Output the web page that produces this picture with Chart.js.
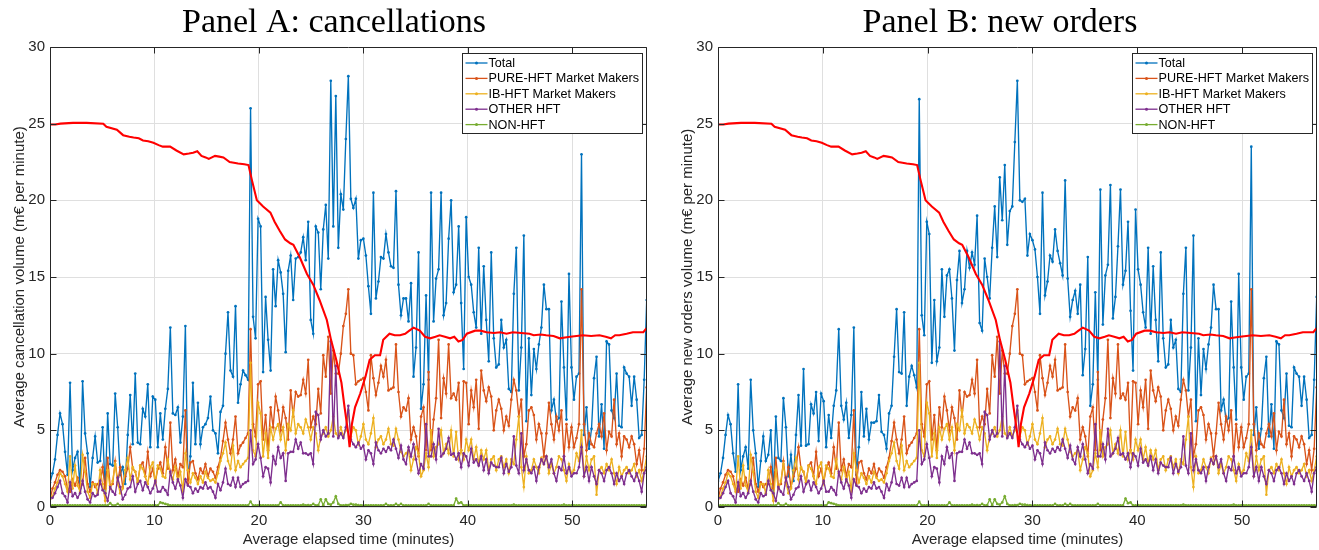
<!DOCTYPE html>
<html><head><meta charset="utf-8">
<script src="https://cdn.jsdelivr.net/npm/chart.js@4/dist/chart.umd.min.js"></script>
<style>
html,body{margin:0;padding:0;background:#fff;}
#wrap{position:relative;width:1319px;height:550px;overflow:hidden;background:#fff;}
canvas{position:absolute;top:0;}
#cA{left:0;} #cB{left:660px;}
</style></head><body>
<div id="wrap"><canvas id="cA" width="660" height="550"></canvas><canvas id="cB" width="659" height="550"></canvas></div>
<script>
// ---- data (m€ per minute), one value per sampling interval ----
const SAMPLE_STEP_MINUTES = 0.24;
const seriesNames = ['Total', 'PURE-HFT Market Makers', 'IB-HFT Market Makers', 'OTHER HFT', 'NON-HFT'];
const xTickValues = [0, 10, 20, 30, 40, 50];
const yTickValues = [0, 5, 10, 15, 20, 25, 30];

const totalCancel = [
1.6,2.2,3.1,4.7,6.1,5.4,3.6,2.1,8.1,2.4,
3.2,3.6,1.2,8.2,4.8,3.5,1.3,3.2,4.6,2.9,
3.0,5.2,0.9,6.1,2.8,2.7,7.4,5.2,2.1,2.6,
1.5,4.7,7.3,4.1,8.7,4.2,4.1,6.4,5.9,8.0,
3.9,7.2,7.0,3.9,6.1,4.4,6.4,7.7,11.7,6.1,
6.0,6.5,4.2,5.9,11.8,1.8,3.3,8.1,4.1,6.8,
4.1,5.2,5.4,5.8,7.2,5.0,4.8,3.5,6.2,6.6,
10.0,12.7,8.9,8.5,13.1,6.8,8.0,8.9,8.6,8.3,
26.0,12.4,11.0,18.8,18.3,8.8,13.7,10.9,8.9,15.5,
13.1,16.1,15.3,13.9,10.1,15.4,16.4,13.5,16.2,16.3,
16.6,17.6,16.1,18.6,12.2,11.3,18.3,17.9,14.2,18.1,
19.7,16.2,27.8,18.3,26.8,16.9,20.4,19.4,24.0,28.1,
20.1,19.5,20.1,16.2,17.4,17.5,16.4,14.4,12.6,20.5,
13.6,14.7,16.3,16.2,17.8,16.6,15.7,15.6,20.6,14.5,
12.5,13.6,13.6,12.1,14.6,8.5,10.4,16.6,6.4,8.0,
13.8,8.3,20.5,12.1,14.9,15.5,20.5,12.5,13.3,17.5,
20.0,14.0,14.5,18.3,13.3,9.0,18.9,15.0,14.5,12.7,
11.7,16.9,11.3,15.7,12.2,9.5,16.6,11.0,9.1,9.3,
12.2,10.4,10.9,7.7,7.5,13.9,16.9,7.6,10.4,17.7,
5.6,11.0,7.3,10.3,9.0,10.6,11.7,14.5,12.9,12.9,
6.3,7.0,5.6,5.8,13.4,9.1,5.7,15.2,9.1,7.0,
8.5,8.7,23.0,4.7,6.5,3.8,5.1,8.4,9.8,4.6,
6.7,3.8,10.8,10.6,6.3,5.8,8.7,5.3,5.2,9.1,
8.7,8.5,6.6,8.5,7.0,4.5,4.7,8.3,13.5];

const totalNewOrders = [
1.7,2.2,3.2,4.7,6.0,5.4,3.5,2.3,8.0,2.4,
3.3,3.9,2.5,8.3,5.0,3.5,1.3,3.0,4.6,3.0,
3.4,5.0,0.8,5.9,3.2,3.0,7.1,5.2,2.0,3.4,
1.7,4.7,7.3,4.0,9.0,4.0,4.1,6.7,6.1,7.5,
4.3,7.4,6.9,3.9,6.0,4.5,6.6,7.6,11.6,6.6,
5.7,6.8,4.5,6.0,11.7,2.1,3.9,7.5,4.6,6.4,
4.4,5.5,5.5,5.6,7.3,4.9,4.7,3.8,6.1,6.6,
9.8,12.9,8.8,8.7,12.7,6.6,8.5,9.2,8.6,7.8,
26.6,12.5,11.2,18.6,17.8,9.4,13.5,9.5,10.4,15.5,
12.4,15.1,15.5,13.6,10.2,14.8,16.7,13.3,14.2,16.7,
15.6,16.6,15.8,19.0,12.0,11.5,16.2,15.0,13.6,16.9,
19.6,16.3,21.5,18.7,22.3,17.1,19.3,19.6,23.8,27.8,
20.0,19.9,20.1,16.4,17.8,17.4,16.8,15.0,12.6,20.5,
13.8,14.7,16.4,16.0,18.1,16.7,15.9,15.1,21.3,14.9,
12.4,13.5,14.1,12.6,14.5,8.6,10.3,16.3,6.6,8.0,
14.0,8.3,20.7,11.9,15.1,15.8,21.0,12.3,13.7,17.0,
20.7,14.5,15.4,18.6,12.8,8.9,19.4,15.5,14.5,12.7,
11.7,16.9,11.3,15.7,12.2,9.5,16.6,11.0,9.1,9.3,
12.2,10.4,10.9,7.7,7.5,13.9,16.9,7.6,10.4,17.7,
5.6,11.0,7.3,10.3,9.0,10.6,11.7,14.5,12.9,12.9,
6.3,7.0,5.6,5.8,13.4,9.1,5.7,15.2,9.1,7.0,
8.5,8.7,23.5,4.7,6.5,3.8,5.1,8.4,9.8,4.6,
6.7,3.8,10.8,10.6,6.3,5.8,8.7,5.3,5.2,9.1,
8.7,8.5,6.6,8.5,7.0,4.5,4.7,8.3,13.7];

const pureHftMM = [
0.5,1.2,1.6,2.1,2.4,2.3,2.0,1.2,1.0,1.8,
1.4,1.9,1.2,1.5,3.2,1.5,1.0,1.6,1.3,1.5,
1.5,2.6,1.2,3.2,1.4,1.5,3.0,1.6,2.6,1.3,
2.0,2.5,3.9,2.5,2.3,1.6,2.7,2.9,2.0,3.6,
2.0,2.5,1.6,2.5,2.9,2.2,3.9,2.5,5.5,2.4,
3.1,2.0,2.8,2.6,6.3,1.5,2.9,3.0,2.2,1.8,
2.5,2.2,2.8,2.0,2.5,2.3,1.9,2.6,3.2,4.3,
5.5,4.4,3.5,4.4,5.9,3.5,4.0,4.2,4.5,4.8,
11.6,5.4,4.6,8.0,8.2,4.4,6.0,3.7,6.5,5.2,
7.2,6.3,5.0,6.5,5.8,4.4,7.6,5.9,7.5,7.2,
7.3,8.3,7.4,9.6,5.2,5.9,5.4,7.7,6.1,9.9,
8.5,11.1,7.4,10.2,8.7,8.7,10.0,11.8,12.6,14.2,
10.0,9.9,8.0,8.2,8.3,8.4,7.5,6.3,9.9,8.4,
7.3,8.1,9.2,8.5,9.6,7.6,7.7,7.8,10.6,7.5,
5.9,6.5,6.3,7.1,4.4,5.2,4.6,3.3,5.9,6.5,
3.7,8.8,3.7,5.7,7.1,10.9,5.8,8.4,7.4,10.6,
7.1,7.4,7.0,8.1,3.7,8.2,8.1,5.4,7.6,6.5,
8.3,5.1,8.9,7.6,6.9,7.8,7.2,5.0,6.3,7.0,
6.4,5.0,5.9,5.3,7.0,8.3,7.6,5.9,7.0,3.3,
4.1,6.3,6.5,6.0,4.4,5.4,4.8,3.3,4.8,6.8,
5.4,4.4,5.9,5.0,6.3,3.3,5.4,3.9,5.2,3.9,
4.5,5.4,14.2,5.4,3.7,4.8,4.1,3.9,4.8,5.4,
4.6,6.1,3.7,4.9,4.6,7.0,4.1,4.8,3.3,4.6,
4.4,3.9,4.6,4.1,2.8,3.7,2.4,3.8,7.8];

const ibHftMM = [
0.6,0.7,1.2,1.6,2.2,2.0,1.5,1.0,3.3,1.2,
2.7,1.4,1.0,3.4,2.3,1.0,0.6,1.5,1.5,0.9,
2.4,1.5,0.4,2.4,1.2,1.7,2.8,1.6,0.9,1.2,
2.4,3.2,1.8,2.6,2.3,1.6,2.7,2.5,2.0,1.5,
2.6,2.9,1.6,2.7,2.5,2.0,1.9,3.1,2.2,1.8,
2.6,1.7,2.3,1.0,3.5,2.4,1.6,2.2,1.9,1.5,
2.0,1.6,2.3,1.9,1.7,1.8,1.6,2.2,3.0,3.5,
4.2,3.0,2.5,4.0,2.4,3.0,2.6,2.8,3.0,3.2,
9.4,3.7,3.3,6.8,6.1,3.3,4.8,3.2,5.2,4.4,
5.1,5.4,4.4,5.2,3.7,5.4,5.0,6.3,4.8,5.4,
5.2,4.8,5.7,5.2,4.4,5.2,4.8,3.7,4.6,4.8,
5.2,4.6,5.0,5.9,4.8,4.6,5.2,4.6,5.0,6.3,
4.6,5.2,5.0,4.1,4.6,5.4,4.4,4.1,4.8,5.8,
3.9,4.4,4.6,4.1,4.4,5.1,4.1,4.0,5.1,4.4,
3.6,3.3,3.5,3.7,2.4,3.1,3.9,3.5,2.0,2.4,
3.5,2.6,5.0,3.3,3.9,4.1,5.0,3.5,4.1,3.5,
5.0,3.3,4.9,3.1,3.7,3.1,4.4,3.7,4.4,3.1,
3.9,2.8,3.7,3.1,3.7,2.4,3.1,3.3,2.4,3.1,
3.3,2.6,3.1,2.2,3.1,2.8,4.4,5.9,2.6,1.3,
3.3,2.2,2.4,3.1,2.6,2.2,3.2,2.8,3.3,2.2,
2.8,2.2,2.6,3.3,3.1,2.4,1.7,2.8,2.2,2.4,
3.5,3.0,5.0,2.0,3.3,2.4,3.1,3.3,0.8,2.4,
2.6,2.2,2.8,2.4,3.1,2.2,1.5,2.6,2.0,2.4,
2.6,2.2,2.4,2.8,2.0,2.4,1.7,2.4,3.3];

const otherHft = [
0.6,0.6,0.9,1.3,1.7,0.9,0.7,0.3,1.6,0.7,
0.9,0.6,0.9,1.7,1.0,0.5,0.3,0.9,0.7,0.8,
1.7,1.1,0.9,0.4,1.3,1.0,0.8,1.9,1.3,0.5,
0.8,1.2,1.3,2.0,1.0,1.5,1.7,1.1,1.6,1.3,
0.9,1.2,1.7,1.0,1.0,1.3,1.1,0.8,2.3,1.6,
1.2,1.8,1.4,0.6,1.8,1.4,1.3,0.9,1.2,1.0,
1.3,1.2,1.6,1.2,1.3,1.0,0.6,1.5,1.1,1.6,
2.5,1.5,1.4,1.9,1.3,1.9,1.3,1.5,1.6,1.7,
5.0,2.8,3.1,4.1,3.2,2.0,2.6,2.5,1.6,3.3,
2.8,3.9,3.2,3.5,1.7,3.5,3.6,3.6,4.4,3.8,
4.2,3.5,3.5,3.4,3.5,2.8,6.2,6.0,4.4,5.0,
4.6,4.8,10.8,4.6,9.2,4.5,4.8,4.5,5.2,6.6,
4.4,4.1,3.9,4.2,3.8,4.0,3.1,3.7,3.5,2.8,
4.2,3.7,3.5,3.8,3.6,3.9,3.7,4.4,3.8,3.2,
4.0,3.1,2.8,3.9,3.3,4.1,3.1,2.2,2.8,2.5,
5.4,3.3,3.3,4.1,3.1,5.1,3.3,3.5,3.8,4.5,
3.4,3.5,3.1,3.5,2.6,3.5,3.3,2.7,3.8,2.9,
3.1,2.7,3.3,2.4,3.1,2.2,2.9,2.7,2.6,2.6,
3.2,2.2,2.8,2.3,2.6,4.6,2.7,2.2,4.8,2.4,
3.1,2.4,2.2,2.6,1.7,2.6,3.1,2.8,3.3,2.6,
3.1,2.2,1.7,2.6,2.4,3.3,2.2,2.6,2.0,2.2,
2.2,2.6,3.9,2.0,2.6,1.7,2.6,2.0,1.5,2.4,
2.2,1.7,2.4,2.6,2.2,1.5,2.2,1.7,2.0,1.5,
2.2,2.4,2.0,1.7,2.2,1.7,1.0,2.2,2.6];

const nonHft = [
0.1,0.1,0.1,0.1,0.1,0.1,0.1,0.1,0.1,0.1,
0.1,0.1,0.1,0.1,0.1,0.1,0.1,0.1,0.1,0.1,
0.1,0.1,0.1,0.1,0.25,0.1,0.1,0.2,0.1,0.1,
0.1,0.1,0.1,0.1,0.1,0.1,0.1,0.1,0.1,0.1,
0.1,0.1,0.1,0.1,0.3,0.25,0.2,0.15,0.1,0.1,
0.1,0.1,0.1,0.1,0.1,0.1,0.1,0.1,0.1,0.1,
0.1,0.1,0.1,0.1,0.1,0.1,0.1,0.1,0.1,0.1,
0.1,0.1,0.1,0.1,0.1,0.1,0.1,0.1,0.1,0.1,
0.35,0.1,0.1,0.1,0.1,0.1,0.1,0.1,0.1,0.1,
0.1,0.1,0.3,0.1,0.1,0.1,0.1,0.1,0.1,0.1,
0.1,0.15,0.1,0.12,0.1,0.2,0.1,0.12,0.5,0.12,
0.5,0.2,0.15,0.3,0.7,0.2,0.1,0.1,0.12,0.12,
0.2,0.15,0.15,0.12,0.1,0.1,0.1,0.1,0.1,0.1,
0.1,0.1,0.1,0.1,0.2,0.1,0.1,0.1,0.2,0.1,
0.2,0.1,0.1,0.1,0.1,0.1,0.1,0.1,0.1,0.1,
0.1,0.2,0.1,0.1,0.1,0.1,0.1,0.1,0.1,0.1,
0.1,0.1,0.55,0.25,0.3,0.1,0.1,0.12,0.1,0.1,
0.1,0.1,0.1,0.1,0.1,0.1,0.1,0.1,0.1,0.1,
0.1,0.1,0.1,0.1,0.1,0.15,0.1,0.1,0.1,0.1,
0.1,0.1,0.1,0.1,0.1,0.1,0.1,0.1,0.1,0.1,
0.1,0.1,0.1,0.1,0.1,0.15,0.1,0.1,0.1,0.1,
0.1,0.1,0.1,0.1,0.1,0.1,0.1,0.1,0.1,0.1,
0.1,0.1,0.1,0.1,0.1,0.1,0.1,0.1,0.1,0.1,
0.1,0.1,0.1,0.1,0.1,0.1,0.1,0.1,0.1];

// red reference line (no legend entry)
const priceMinutes = [0,0.5,1,2.2,3.5,5.1,5.4,6.4,7,7.6,8,8.5,8.9,9.4,9.9,10.4,10.8,11.5,12.1,12.8,13.3,13.7,14.1,14.5,14.9,15.2,15.8,16.2,16.6,17.2,17.6,18,18.6,19,19.3,19.8,20.4,21.1,21.5,22,22.5,23,23.3,23.9,24.6,25.2,25.8,26.5,26.9,27.4,27.9,28.2,28.55,28.68,28.9,29.2,29.7,30.2,30.6,31.1,31.6,31.9,32.5,33.0,33.5,34.0,34.4,34.8,35.4,35.9,36.4,36.9,37.3,37.8,38.3,38.7,39.1,39.5,39.9,40.7,41.2,41.8,42.5,43.1,43.7,44.3,45.1,45.9,46.3,47,47.5,48.2,48.8,49.3,49.8,50.4,51,51.8,52.6,53.2,53.7,54.1,54.5,55.2,55.8,56.3,56.8,57.15];
const priceLevel = [24.95,24.95,25.0,25.05,25.05,25.0,24.8,24.6,24.25,24.15,24.1,24.05,23.9,23.85,23.75,23.6,23.5,23.5,23.25,23.0,23.05,23.1,23.2,22.9,22.8,22.7,22.9,22.85,22.8,22.5,22.45,22.4,22.35,22.3,21.4,20.0,19.6,19.2,18.6,18.0,17.45,17.2,17.1,16.3,15.2,14.5,13.5,12.2,10.9,9.6,8.1,6.5,4.8,3.9,5.4,6.5,7.4,8.5,9.6,9.9,9.9,10.9,11.3,11.2,11.2,11.3,11.5,11.7,11.5,11.1,11.0,11.1,11.2,11.1,11.0,11.1,10.8,10.9,11.3,11.5,11.5,11.4,11.35,11.4,11.3,11.4,11.35,11.3,11.2,11.25,11.2,11.15,11.0,11.05,11.1,11.15,11.2,11.15,11.2,11.1,11.0,11.2,11.2,11.3,11.4,11.4,11.4,11.7];

// uniform sampling grid of the elapsed-time axis
const elapsedMinutes = totalCancel.map((_, i) => Math.round(i * SAMPLE_STEP_MINUTES * 100) / 100);

// ---- styling ----
const COLORS = ['#0072BD', '#D95319', '#EDB120', '#7E2F8E', '#77AC30'];
const AXIS_COLOR = '#262626';
const GRID_COLOR = '#dfdfdf';
const SANS = '"Liberation Sans", Arial, Helvetica, sans-serif';

function seriesDataset(name, values, color, order) {
  return {
    label: name,
    data: values.map((v, i) => ({x: elapsedMinutes[i], y: v})),
    borderColor: color, backgroundColor: color,
    borderWidth: 1.35, pointRadius: 1.35, pointHoverRadius: 1.35, pointBorderWidth: 0,
    pointBackgroundColor: color, tension: 0, order
  };
}

const framePlugin = {
  id: 'frame',
  afterDraw(chart, args, opts) {
    const {ctx, chartArea: ca, scales: {x, y}} = chart;
    ctx.save();
    // box
    ctx.strokeStyle = AXIS_COLOR; ctx.lineWidth = 1;
    const L = Math.round(ca.left) + 0.5, R = Math.round(ca.right) - 0.5;
    const T = Math.round(ca.top) + 0.5, B = Math.round(ca.bottom) - 0.5;
    ctx.beginPath();
    ctx.moveTo(L, T); ctx.lineTo(R, T); ctx.lineTo(R, B); ctx.lineTo(L, B); ctx.closePath();
    const TL = 6;
    xTickValues.forEach(v => {
      const px = Math.round(x.getPixelForValue(v)) + 0.5;
      ctx.moveTo(px, B); ctx.lineTo(px, B - TL);
      ctx.moveTo(px, T); ctx.lineTo(px, T + TL);
    });
    yTickValues.forEach(v => {
      const py = Math.round(y.getPixelForValue(v)) + 0.5;
      ctx.moveTo(L, py); ctx.lineTo(L + TL, py);
      ctx.moveTo(R, py); ctx.lineTo(R - TL, py);
    });
    ctx.stroke();

    // legend (inside, top-right)
    const lw = 180, lh = 80;
    const lx = Math.round(ca.right - 5 - lw) + 0.5, ly = Math.round(ca.top + 6) + 0.5;
    ctx.fillStyle = '#ffffff';
    ctx.fillRect(lx, ly, lw, lh);
    ctx.strokeStyle = AXIS_COLOR;
    ctx.strokeRect(lx, ly, lw, lh);
    ctx.font = '12.6px ' + SANS;
    ctx.textBaseline = 'middle'; ctx.textAlign = 'left';
    seriesNames.forEach((name, k) => {
      const cy = ly + 9.5 + k * 15.4;
      ctx.strokeStyle = COLORS[k]; ctx.lineWidth = 1.3;
      ctx.beginPath(); ctx.moveTo(lx + 3, cy); ctx.lineTo(lx + 25, cy); ctx.stroke();
      ctx.fillStyle = COLORS[k];
      ctx.beginPath(); ctx.arc(lx + 14, cy, 1.5, 0, Math.PI * 2); ctx.fill();
      ctx.fillStyle = '#000';
      ctx.fillText(name, lx + 26, cy + 0.5);
    });

    // title
    ctx.fillStyle = '#000';
    ctx.font = '34px "Liberation Serif", "Times New Roman", serif';
    ctx.textAlign = 'center'; ctx.textBaseline = 'alphabetic';
    ctx.fillText(opts.text, opts.x, 32);
    ctx.restore();
  }
};

function makeChart(canvasId, total, yTitle, titleText, titleX, padLeft, padRight) {
  const datasets = [
    seriesDataset(seriesNames[0], total, COLORS[0], 5),
    seriesDataset(seriesNames[1], pureHftMM, COLORS[1], 4),
    seriesDataset(seriesNames[2], ibHftMM, COLORS[2], 3),
    seriesDataset(seriesNames[3], otherHft, COLORS[3], 2),
    seriesDataset(seriesNames[4], nonHft, COLORS[4], 1),
    {
      label: 'reference', data: priceMinutes.map((m, i) => ({x: m, y: priceLevel[i]})),
      borderColor: '#ff0000', backgroundColor: '#ff0000', borderWidth: 2.1,
      pointRadius: 0, pointHoverRadius: 0, tension: 0, order: 0
    }
  ];
  const tickFont = {family: SANS, size: 15};
  return new Chart(document.getElementById(canvasId), {
    type: 'line',
    data: {datasets},
    options: {
      responsive: false, animation: false, devicePixelRatio: 1,
      events: [],
      layout: {padding: {top: 47, right: padRight, bottom: 0, left: padLeft}},
      plugins: {
        legend: {display: false}, tooltip: {enabled: false},
        frame: {text: titleText, x: titleX}
      },
      scales: {
        x: {
          type: 'linear', min: 0, max: 57.15,
          afterFit(s) { s.height = 43; },
          ticks: {stepSize: 10, includeBounds: false, padding: 5, font: tickFont, color: AXIS_COLOR, maxRotation: 0},
          grid: {color: GRID_COLOR, drawTicks: false, lineWidth: 1},
          border: {display: false},
          title: {display: true, text: 'Average elapsed time (minutes)', font: tickFont, color: AXIS_COLOR, padding: {top: 0, bottom: 1}}
        },
        y: {
          type: 'linear', min: 0, max: 30,
          afterFit(s) { s.width = 50; },
          ticks: {stepSize: 5, padding: 5, font: tickFont, color: AXIS_COLOR},
          grid: {color: GRID_COLOR, drawTicks: false, lineWidth: 1},
          border: {display: false},
          title: {display: true, text: yTitle, font: tickFont, color: AXIS_COLOR, padding: {top: 11, bottom: 0}}
        }
      }
    },
    plugins: [framePlugin]
  });
}

makeChart('cA', totalCancel, 'Average cancellation volume (m€ per minute)', 'Panel A: cancellations', 334, 0, 13);
makeChart('cB', totalNewOrders, 'Average new orders volume (m€ per minute)', 'Panel B: new orders', 340, 8, 2);
</script>
</body></html>
